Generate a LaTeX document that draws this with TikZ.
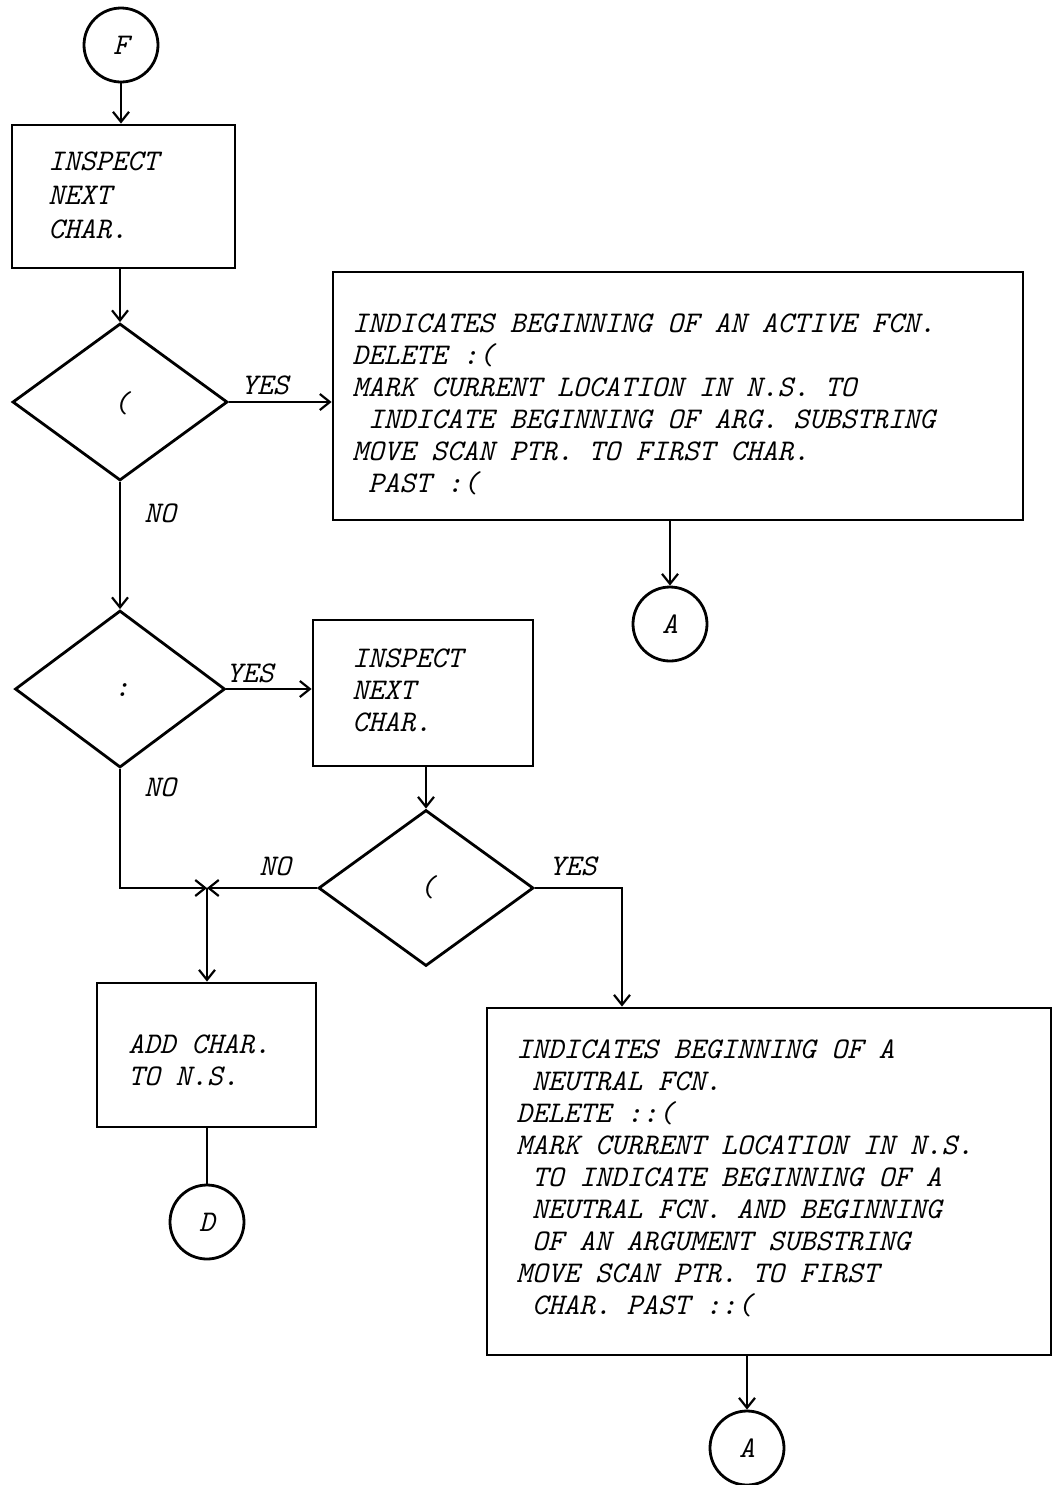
\documentclass[tikz,border=0pt]{standalone}
\usetikzlibrary{shapes.geometric,arrows.meta}
\newcommand\ind{\hphantom{X}}
\begin{document}
\begin{tikzpicture}[x=0.5pt,y=-0.5pt,
  tw/.style={font=\ttfamily\itshape\fontsize{15}{16}\selectfont},
  boxnode/.style={draw,line width=1.4pt,rectangle,inner sep=0pt},
  decis/.style={draw,line width=1.4pt,diamond,inner sep=0pt},
  conn/.style={draw,line width=1.4pt,circle,inner sep=0pt,minimum size=37pt,tw},
  txt/.style={tw,anchor=north west,align=left,inner sep=0pt},
  lbl/.style={tw,inner sep=0pt},
  arr/.style={line width=1.1pt,-{Straight Barb[length=5pt,width=8pt]}},
  ln/.style={line width=1.1pt}]
\useasboundingbox (0,0) rectangle (1054,1485);

% connectors circles
\node[conn] (F) at (121,45) {F};
\node[conn] (A1) at (670,624) {A};
\node[conn] (D) at (207,1222) {D};
\node[conn] (A2) at (747,1448) {A};

% boxes
\node[boxnode,minimum width=111.5pt,minimum height=71.5pt] (box1) at (123.5,196.5) {};
\node[boxnode,minimum width=345pt,minimum height=124pt] (box2) at (678,396) {};
\node[boxnode,minimum width=110pt,minimum height=73pt] (box3) at (423,693) {};
\node[boxnode,minimum width=109.5pt,minimum height=72pt] (box4) at (206.5,1055) {};
\node[boxnode,minimum width=282pt,minimum height=173.5pt] (box5) at (769,1181.5) {};

% decisions
\node[decis,minimum width=107.5pt,minimum height=78.5pt] (d1) at (120,402) {};
\node[decis,minimum width=105pt,minimum height=78.5pt] (d2) at (120,689) {};
\node[decis,minimum width=107.5pt,minimum height=78pt] (d3) at (426,888) {};

% texts
\node[txt,font=\ttfamily\itshape\fontsize{15}{17}\selectfont] (t1) at (48,151) {INSPECT\\NEXT\\CHAR.};
\node[txt] (t2) at (352,313) {INDICATES BEGINNING OF AN ACTIVE FCN.\\DELETE :(\\MARK CURRENT LOCATION IN N.S. TO\\\ind INDICATE BEGINNING OF ARG. SUBSTRING\\MOVE SCAN PTR. TO FIRST CHAR.\\\ind PAST :(};
\node[txt] (t3) at (352,648) {INSPECT\\NEXT\\CHAR.};
\node[txt] (t4) at (128,1034) {ADD CHAR.\\TO N.S.};
\node[txt] (t5) at (516,1039) {INDICATES BEGINNING OF A\\\ind NEUTRAL FCN.\\DELETE ::(\\MARK CURRENT LOCATION IN N.S.\\\ind TO INDICATE BEGINNING OF A\\\ind NEUTRAL FCN. AND BEGINNING\\\ind OF AN ARGUMENT SUBSTRING\\MOVE SCAN PTR. TO FIRST\\\ind CHAR. PAST ::(};

\node[lbl] (s1) at (121,403) {(};
\node[lbl] (s2) at (122,690) {:};
\node[lbl] (s3) at (427,887) {(};

\node[lbl] (yes1) at (265,385) {YES};
\node[lbl] (no1) at (160,513) {NO};
\node[lbl] (yes2) at (250,673) {YES};
\node[lbl] (no2) at (160,787) {NO};
\node[lbl] (no3) at (275,866) {NO};
\node[lbl] (yes3) at (573,866) {YES};

\coordinate (J) at (207,888);
\coordinate (K) at (622,888);

% connectors
\draw[arr] (F.south) -- (F.south |- box1.north);
\draw[arr] (box1.south -| d1.north) -- (d1.north);
\draw[arr] (d1.east) -- (d1.east -| box2.west);
\draw[arr] (box2.south -| A1.north) -- (A1.north);
\draw[arr] (d1.south) -- (d2.north);
\draw[arr] (d2.east) -- (d2.east -| box3.west);
\draw[arr] (box3.south -| d3.north) -- (d3.north);
\draw[arr] (d2.south) |- (J);
\draw[arr] (d3.west) -- (J);
\draw[arr] (J) -- (J |- box4.north);
\draw[ln] (box4.south -| D.north) -- (D.north);
\draw[arr] (d3.east) -- (K) -- (K |- box5.north);
\draw[arr] (box5.south -| A2.north) -- (A2.north);
\end{tikzpicture}
\end{document}
